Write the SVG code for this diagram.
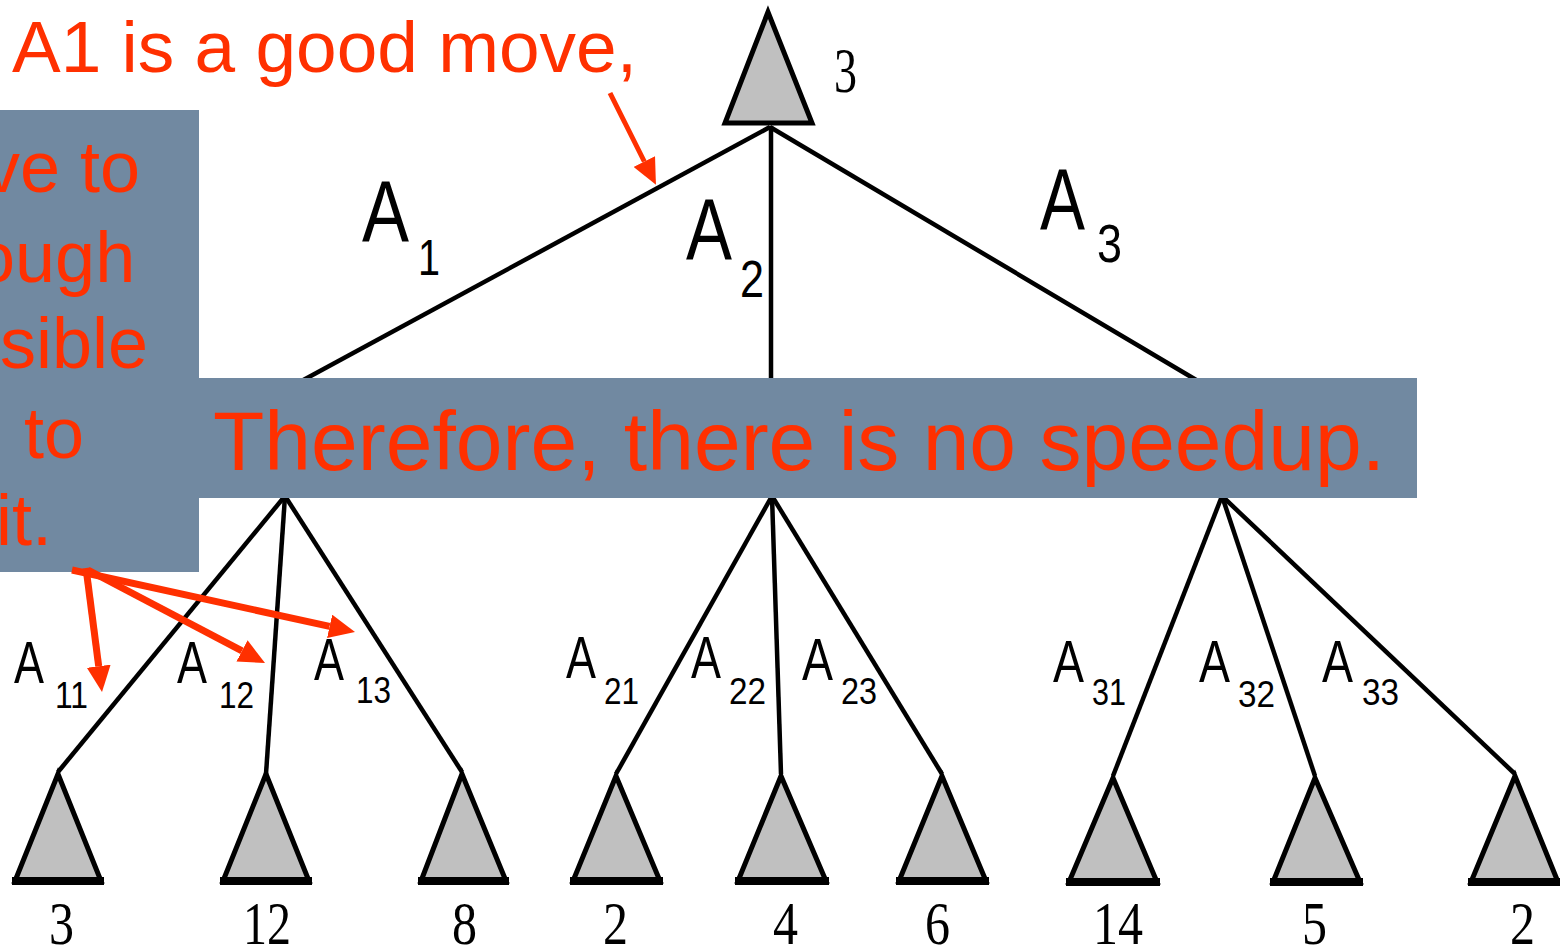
<svg xmlns="http://www.w3.org/2000/svg" width="1560" height="952" viewBox="0 0 1560 952">
<style>
.edge{stroke:#000;stroke-width:4.5;fill:none}
.tri{fill:#c0c0c0;stroke:#000;stroke-width:5;stroke-linejoin:miter}
.base{stroke:#000;stroke-width:8}
.lbl{font-family:"Liberation Sans",Arial,sans-serif;fill:#000}
.val{font-family:"Liberation Serif","Times New Roman",serif;fill:#000}
.box{fill:#7189a1}
.red{font-family:"Liberation Sans",Arial,sans-serif;fill:#ff3000}
.arr{stroke:#ff3000;fill:none}
</style>
<defs>
<marker id="ah" markerUnits="userSpaceOnUse" markerWidth="26" markerHeight="24" viewBox="0 0 26 24" refX="0" refY="12" orient="auto">
<path d="M0,0 L26,12 L0,24 z" fill="#ff3000"/>
</marker>
</defs>
<rect width="1560" height="952" fill="#fff"/>
<g id="connectors">
<line class="edge" x1="770" y1="127" x2="296" y2="384"/>
<line class="edge" x1="771" y1="126" x2="771" y2="384"/>
<line class="edge" x1="770" y1="127" x2="1203" y2="384"/>
<line class="edge" x1="285" y1="496" x2="58" y2="772"/>
<line class="edge" x1="285" y1="496" x2="266" y2="774"/>
<line class="edge" x1="285" y1="496" x2="462" y2="772"/>
<line class="edge" x1="772" y1="496" x2="616" y2="774"/>
<line class="edge" x1="772" y1="496" x2="781" y2="774"/>
<line class="edge" x1="772" y1="496" x2="942" y2="774"/>
<line class="edge" x1="1222" y1="496" x2="1113" y2="776"/>
<line class="edge" x1="1222" y1="496" x2="1315" y2="776"/>
<line class="edge" x1="1222" y1="496" x2="1515" y2="774"/>
</g>
<g id="root">
<polygon class="tri" points="768,12 725,123 812,123"/>
<text class="val" x="834" y="92" font-size="64" textLength="23" lengthAdjust="spacingAndGlyphs">3</text>
</g>
<g id="edge-labels">
<text class="lbl" x="362" y="242" font-size="88" textLength="47" lengthAdjust="spacingAndGlyphs">A</text>
<text class="lbl" x="418" y="275" font-size="50" textLength="22" lengthAdjust="spacingAndGlyphs">1</text>
<text class="lbl" x="686" y="260" font-size="88" textLength="46" lengthAdjust="spacingAndGlyphs">A</text>
<text class="lbl" x="740" y="297" font-size="52" textLength="24" lengthAdjust="spacingAndGlyphs">2</text>
<text class="lbl" x="1040" y="230" font-size="88" textLength="45" lengthAdjust="spacingAndGlyphs">A</text>
<text class="lbl" x="1097" y="262" font-size="54" textLength="25" lengthAdjust="spacingAndGlyphs">3</text>

<text class="lbl" x="14" y="683" font-size="60" textLength="30" lengthAdjust="spacingAndGlyphs">A</text>
<text class="lbl" x="55" y="708" font-size="36" textLength="33" lengthAdjust="spacingAndGlyphs">11</text>
<text class="lbl" x="177" y="683" font-size="60" textLength="30" lengthAdjust="spacingAndGlyphs">A</text>
<text class="lbl" x="219" y="708" font-size="36" textLength="35" lengthAdjust="spacingAndGlyphs">12</text>
<text class="lbl" x="314" y="680" font-size="60" textLength="30" lengthAdjust="spacingAndGlyphs">A</text>
<text class="lbl" x="356" y="703" font-size="36" textLength="35" lengthAdjust="spacingAndGlyphs">13</text>

<text class="lbl" x="566" y="678" font-size="60" textLength="30" lengthAdjust="spacingAndGlyphs">A</text>
<text class="lbl" x="604" y="704" font-size="36" textLength="35" lengthAdjust="spacingAndGlyphs">21</text>
<text class="lbl" x="691" y="678" font-size="60" textLength="30" lengthAdjust="spacingAndGlyphs">A</text>
<text class="lbl" x="729" y="704" font-size="36" textLength="37" lengthAdjust="spacingAndGlyphs">22</text>
<text class="lbl" x="802" y="680" font-size="60" textLength="31" lengthAdjust="spacingAndGlyphs">A</text>
<text class="lbl" x="841" y="704" font-size="36" textLength="36" lengthAdjust="spacingAndGlyphs">23</text>

<text class="lbl" x="1053" y="682" font-size="60" textLength="31" lengthAdjust="spacingAndGlyphs">A</text>
<text class="lbl" x="1092" y="705" font-size="36" textLength="34" lengthAdjust="spacingAndGlyphs">31</text>
<text class="lbl" x="1199" y="682" font-size="60" textLength="31" lengthAdjust="spacingAndGlyphs">A</text>
<text class="lbl" x="1238" y="707" font-size="36" textLength="37" lengthAdjust="spacingAndGlyphs">32</text>
<text class="lbl" x="1322" y="682" font-size="60" textLength="31" lengthAdjust="spacingAndGlyphs">A</text>
<text class="lbl" x="1362" y="705" font-size="36" textLength="37" lengthAdjust="spacingAndGlyphs">33</text>
</g>
<g id="leaf1"><polygon class="tri" points="58,774 15,881 101,881"/><line class="base" x1="12" y1="881" x2="104" y2="881"/><text class="val" x="49" y="944" font-size="62" textLength="25" lengthAdjust="spacingAndGlyphs">3</text></g>
<g id="leaf2"><polygon class="tri" points="266,774 223,881 309,881"/><line class="base" x1="220" y1="881" x2="312" y2="881"/><text class="val" x="243" y="944" font-size="62" textLength="48" lengthAdjust="spacingAndGlyphs">12</text></g>
<g id="leaf3"><polygon class="tri" points="462,774 421,881 506,881"/><line class="base" x1="418" y1="881" x2="509" y2="881"/><text class="val" x="452" y="944" font-size="62" textLength="25" lengthAdjust="spacingAndGlyphs">8</text></g>
<g id="leaf4"><polygon class="tri" points="616,776 573,881 660,881"/><line class="base" x1="570" y1="881" x2="663" y2="881"/><text class="val" x="603" y="944" font-size="62" textLength="25" lengthAdjust="spacingAndGlyphs">2</text></g>
<g id="leaf5"><polygon class="tri" points="781,776 738,881 826,881"/><line class="base" x1="735" y1="881" x2="829" y2="881"/><text class="val" x="773" y="944" font-size="62" textLength="25" lengthAdjust="spacingAndGlyphs">4</text></g>
<g id="leaf6"><polygon class="tri" points="942,776 899,881 986,881"/><line class="base" x1="896" y1="881" x2="989" y2="881"/><text class="val" x="925" y="944" font-size="62" textLength="25" lengthAdjust="spacingAndGlyphs">6</text></g>
<g id="leaf7"><polygon class="tri" points="1113,778 1069,882 1157,882"/><line class="base" x1="1066" y1="882" x2="1160" y2="882"/><text class="val" x="1093" y="944" font-size="62" textLength="50" lengthAdjust="spacingAndGlyphs">14</text></g>
<g id="leaf8"><polygon class="tri" points="1315,778 1273,882 1360,882"/><line class="base" x1="1270" y1="882" x2="1363" y2="882"/><text class="val" x="1302" y="944" font-size="62" textLength="25" lengthAdjust="spacingAndGlyphs">5</text></g>
<g id="leaf9"><polygon class="tri" points="1515,776 1471,882 1558,882"/><line class="base" x1="1468" y1="882" x2="1560" y2="882"/><text class="val" x="1510" y="944" font-size="62" textLength="25" lengthAdjust="spacingAndGlyphs">2</text></g>
<g id="note-top">
<text class="red" x="12" y="72" font-size="73">A1 is a good move,</text>
</g>
<g id="note-boxes">
<rect class="box" x="0" y="378" width="1417" height="120"/>
<rect class="box" x="0" y="110" width="199" height="462"/>
</g>
<g id="note-left">
<text class="red" font-size="72">
<tspan x="-16" y="192">ve to</tspan>
<tspan x="-25" y="282">ough</tspan>
<tspan x="0" y="368">sible</tspan>
<tspan x="24" y="458">to</tspan>
<tspan x="-4" y="545">it.</tspan>
</text>
</g>
<g id="note-wide">
<text class="red" x="213" y="470" font-size="84">Therefore, there is no speedup.</text>
</g>
<g id="annotation-arrows">
<line class="arr" stroke-width="5" x1="610" y1="93" x2="644.3" y2="161.5" marker-end="url(#ah)"/>
<line class="arr" stroke-width="7" x1="86" y1="568" x2="98.7" y2="666.2" marker-end="url(#ah)"/>
<line class="arr" stroke-width="7" x1="88" y1="570" x2="242" y2="650.9" marker-end="url(#ah)"/>
<line class="arr" stroke-width="7" x1="72" y1="570" x2="329.6" y2="626.4" marker-end="url(#ah)"/>
</g>
</svg>
